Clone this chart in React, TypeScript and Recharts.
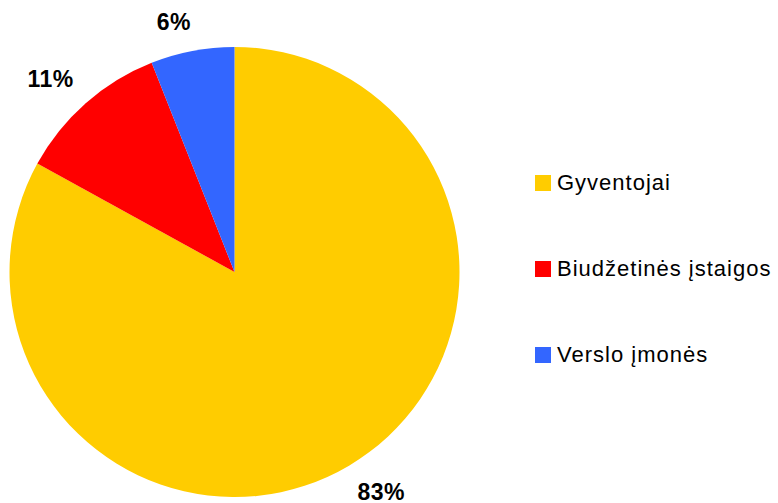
import React from 'react';
import { PieChart, Pie, Cell, Legend } from 'recharts';

const categories = ['Gyventojai', 'Biudžetinės įstaigos', 'Verslo įmonės'];
const shares = [83, 11, 6];
const colors = ['#FFCC00', '#FF0000', '#3366FF'];

const data = categories.map((name, i) => ({ name, value: shares[i] }));

const RADIAN = Math.PI / 180;
const FONT = '"Liberation Sans", Arial, sans-serif';

const renderLabel = (props: any) => {
    const { cx, cy, midAngle, outerRadius, value } = props;
    const text = `${value}%`;
    const w = text.length * 15;
    const h = 20;
    const r = outerRadius + 19;
    const cos = Math.cos(-midAngle * RADIAN);
    const sin = Math.sin(-midAngle * RADIAN);
    const x = cx + r * cos + Math.sign(cos) * w / 2;
    const y = cy + r * sin + Math.sign(sin) * h / 2;
    return (
        <text x={x} y={y} textAnchor="middle" dominantBaseline="central" fill="#000" fontFamily={FONT} fontWeight="bold" fontSize={23} letterSpacing={0.5}>
            {text}
        </text>
    );
};

const renderLegend = () => (
    <div style={{ fontFamily: FONT }}>
        {data.map((d, i) => (
            <div key={d.name} style={{ display: 'flex', alignItems: 'center', height: 86 }}>
                <div style={{ width: 16, height: 16, background: colors[i], marginRight: 6 }} />
                <span style={{ fontSize: 22, letterSpacing: 1, color: '#000' }}>{d.name}</span>
            </div>
        ))}
    </div>
);

export default function App() {
    return (
        <div style={{ position: 'absolute', left: 0, top: 0, width: 778, height: 503, background: '#fff' }}>
            <PieChart width={778} height={503} margin={{ top: 0, right: 0, bottom: 0, left: 0 }}>
                <Pie
                    data={data}
                    dataKey="value"
                    nameKey="name"
                    cx={234.5}
                    cy={272}
                    outerRadius={225}
                    startAngle={90}
                    endAngle={-270}
                    stroke="none"
                    label={renderLabel}
                    labelLine={false}
                    isAnimationActive={false}
                >
                    {data.map((d, i) => (
                        <Cell key={d.name} fill={colors[i]} />
                    ))}
                </Pie>
                <Legend
                    content={renderLegend}
                    wrapperStyle={{ position: 'absolute', left: 535, top: 140, width: 243 }}
                />
            </PieChart>
        </div>
    );
}
